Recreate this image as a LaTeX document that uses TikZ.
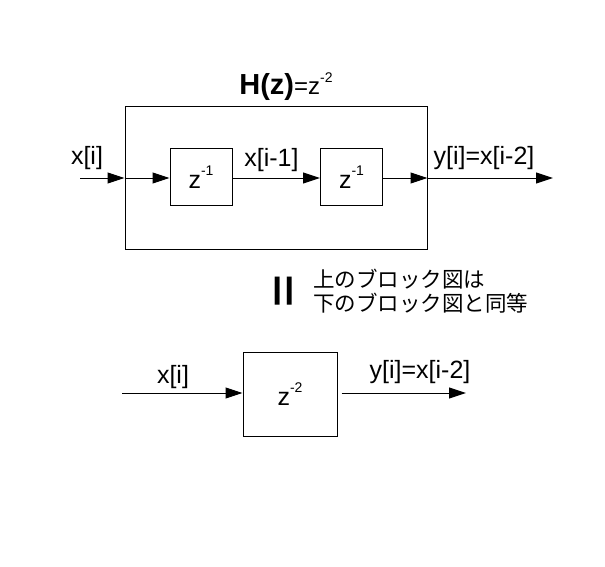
\documentclass[tikz,border=0pt]{standalone}
\usepackage{fontspec}
\setmainfont{Liberation Sans}
\newfontfamily\jpfont{Noto Sans CJK JP}
\usetikzlibrary{arrows.meta}
\newcommand{\mysup}[1]{\raisebox{0.5em}{\fontsize{14}{14}\selectfont #1}}
\begin{document}
\begin{tikzpicture}[x=1pt,y=-1pt,
  every node/.style={font=\fontsize{25}{28}\selectfont},
  blk/.style={draw,line width=1pt,inner sep=0pt},
  sig/.style={line width=1pt,-{Triangle[length=17pt,width=11pt]}},
  lbl/.style={inner sep=0pt}]
\useasboundingbox (0,0) rectangle (605,567);
% top system
\node[blk,minimum width=302pt,minimum height=142pt] (outer) at (276,178) {};
\node[blk,minimum width=62pt,minimum height=57pt] (b1) at (201,177) {z\mysup{-1}};
\node[blk,minimum width=62pt,minimum height=57pt] (b2) at (351.5,177) {z\mysup{-1}};
\coordinate (in) at (80,178);
\coordinate (out) at (553,178);
\draw[sig] (in) -- (outer.west);
\draw[sig] (outer.west) -- (outer.west -| b1.west);
\draw[sig] (b1.east |- outer.west) -- (b2.west |- outer.west);
\draw[sig] (b2.east |- outer.east) -- (outer.east);
\draw[sig] (outer.east) -- (out);
\node[lbl] (lx) at (87,158) {x[i]};
\node[lbl] (lx1) at (271.5,160) {x[i-1]};
\node[lbl] (ly) at (484,158) {y[i]=x[i-2]};
\node[lbl] (lh) at (286,87) {{\bfseries\fontsize{29}{30}\selectfont H(z)}\fontsize{24}{26}\selectfont=z\mysup{-2}};
% middle
\node[lbl,rotate=90,yscale=0.8,font=\bfseries\fontsize{56}{56}\selectfont] (eq) at (287,291) {=};
\node[lbl,anchor=west,align=left,font=\jpfont\fontsize{21.5}{24}\selectfont] (jp) at (313,291) {上のブロック図は\\下のブロック図と同等};
% bottom system
\node[blk,minimum width=94pt,minimum height=84pt] (b3) at (290,394) {z\mysup{-2}};
\coordinate (in2) at (122,393);
\coordinate (out2) at (466,393);
\draw[sig] (in2) -- (in2 -| b3.west);
\draw[sig] ([xshift=4pt]b3.east |- in2) -- (out2);
\node[lbl] (lx2) at (173,377) {x[i]};
\node[lbl] (ly2) at (420,372) {y[i]=x[i-2]};
\end{tikzpicture}
\end{document}
